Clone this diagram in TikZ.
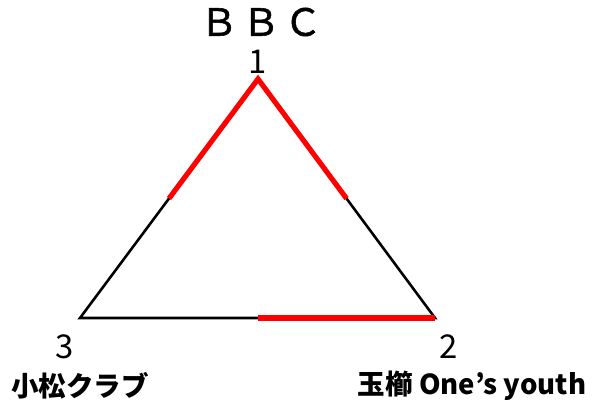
\documentclass[tikz,border=0pt]{standalone}
\usepackage{fontspec}
\newfontfamily\jpfont{Noto Sans CJK JP}
\usetikzlibrary{calc}
\tikzset{
  edge/.style={line width=2.2pt, black},
  hot/.style={line width=4.4pt, red, line join=miter},
  lbl/.style={font=\jpfont\bfseries\fontsize{23.5pt}{26pt}\selectfont, inner sep=0pt},
  num/.style={font=\jpfont\fontsize{28pt}{30pt}\selectfont, inner sep=0pt},
}

\begin{document}
\begin{tikzpicture}[x=0.03cm, y=-0.03cm]
    \useasboundingbox (0,0) rectangle (595,405);
    \coordinate (v1) at (258,79);
    \coordinate (v2) at (435,318);
    \coordinate (v3) at (80,318);
    \coordinate (m13) at ($(v1)!0.5!(v3)$);
    \coordinate (m12) at ($(v1)!0.5!(v2)$);
    \coordinate (m23) at ($(v2)!0.5!(v3)$);
    \draw[edge] (v1) -- (v2) -- (v3) -- cycle;
    \draw[hot] (m13) -- (v1) -- (m12);
    \draw[hot] (m23) -- (v2);
    \node[num] (n1) at (258,62) {1};
    \node[num] (n2) at (449,347) {2};
    \node[num] (n3) at (65,347) {3};
    \node[font=\jpfont\fontsize{32pt}{34pt}\selectfont\addfontfeature{LetterSpace=12,FakeBold=1.5}, inner sep=0pt] (bbc) at (261,22) {ＢＢＣ};
    \node[lbl] (club) at (80,386) {小松クラブ};
    \node[lbl] (youth) at (472,386) {玉櫛 One’s youth};
\end{tikzpicture}
\end{document}
